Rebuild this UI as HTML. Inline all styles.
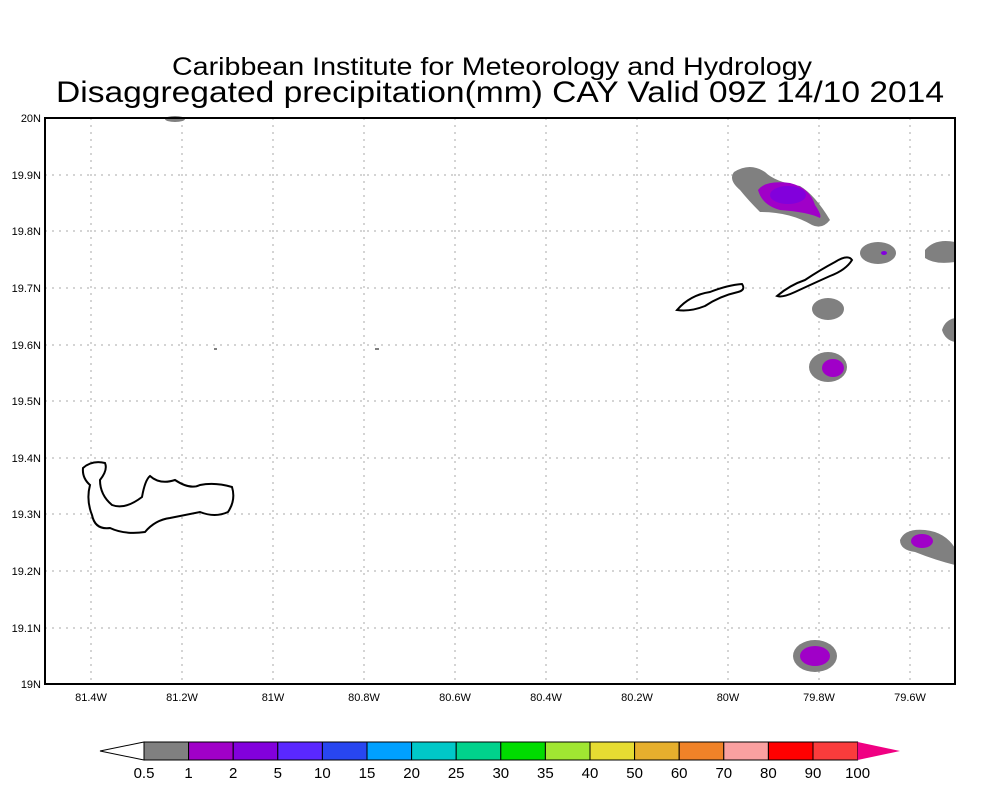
<!DOCTYPE html>
<html><head><meta charset="utf-8"><style>
body{margin:0;background:#fff;}
svg{display:block;font-family:"Liberation Sans",sans-serif;}
</style></head><body>
<svg width="1000" height="800" viewBox="0 0 1000 800">
<rect width="1000" height="800" fill="#fff"/>
<text x="492" y="75" font-size="25" text-anchor="middle" textLength="640" lengthAdjust="spacingAndGlyphs">Caribbean Institute for Meteorology and Hydrology</text>
<text x="500" y="102" font-size="30" text-anchor="middle" textLength="888" lengthAdjust="spacingAndGlyphs">Disaggregated precipitation(mm) CAY Valid 09Z 14/10 2014</text>
<g stroke="#aaa" stroke-width="1" stroke-dasharray="2,5">
<line x1="91" y1="118" x2="91" y2="684"/><line x1="182" y1="118" x2="182" y2="684"/><line x1="273" y1="118" x2="273" y2="684"/><line x1="364" y1="118" x2="364" y2="684"/><line x1="455" y1="118" x2="455" y2="684"/><line x1="546" y1="118" x2="546" y2="684"/><line x1="637" y1="118" x2="637" y2="684"/><line x1="728" y1="118" x2="728" y2="684"/><line x1="819" y1="118" x2="819" y2="684"/><line x1="910" y1="118" x2="910" y2="684"/>
<line x1="45" y1="175" x2="955" y2="175"/><line x1="45" y1="231" x2="955" y2="231"/><line x1="45" y1="288" x2="955" y2="288"/><line x1="45" y1="345" x2="955" y2="345"/><line x1="45" y1="401" x2="955" y2="401"/><line x1="45" y1="458" x2="955" y2="458"/><line x1="45" y1="514" x2="955" y2="514"/><line x1="45" y1="571" x2="955" y2="571"/><line x1="45" y1="628" x2="955" y2="628"/>
</g>
<g fill="#808080">
<path d="M734 172 Q750 162 765 172 Q775 182 800 186 Q815 195 830 220 Q822 230 812 225 Q790 212 760 212 Q748 200 740 190 Q728 180 734 172Z"/>
<ellipse cx="878" cy="253" rx="18" ry="11"/>
<path d="M925 250 Q935 238 955 242 L955 262 Q935 265 925 258Z"/>
<ellipse cx="828" cy="309" rx="16" ry="11"/>
<path d="M942 330 Q945 320 955 318 L955 342 Q945 340 942 330Z"/>
<ellipse cx="828" cy="367" rx="19" ry="15"/>
<path d="M900 540 Q905 528 925 530 Q945 532 955 548 L955 565 Q935 560 915 552 Q900 550 900 540Z"/>
<ellipse cx="815" cy="656" rx="22" ry="16"/>
<ellipse cx="175" cy="119" rx="10" ry="3"/>
</g>
<g fill="#a000c8">
<path d="M758 190 Q765 180 790 183 Q810 188 815 205 Q822 215 820 218 Q808 212 780 210 Q762 205 758 190Z"/>
<ellipse cx="833" cy="368" rx="11" ry="9"/>
<ellipse cx="922" cy="541" rx="11" ry="7"/>
<ellipse cx="815" cy="656" rx="15" ry="10"/>
</g>
<ellipse cx="788" cy="195" rx="18" ry="9" fill="#8200dc"/>
<ellipse cx="884" cy="253" rx="3" ry="2" fill="#8200dc"/>
<g fill="#fff" stroke="#000" stroke-width="2">
<path d="M677 310 Q690 295 710 292 Q728 285 742 284 Q746 290 738 292 Q720 296 705 306 Q690 312 677 310Z"/>
<path d="M777 296 Q790 285 805 280 Q820 270 835 262 Q848 254 852 260 Q846 270 830 276 Q810 285 795 292 Q782 298 777 296Z"/>
<path d="M83 468 Q92 460 105 463 Q108 470 100 480 Q100 495 112 505 Q125 510 142 497 Q145 480 150 476 Q160 485 175 480 Q190 490 200 485 Q215 482 232 487 Q236 500 228 512 Q215 518 200 512 Q185 515 170 518 Q155 520 145 532 Q125 535 110 528 Q95 530 92 515 Q86 500 90 485 Q82 478 83 468Z"/>
</g>
<g fill="#808080"><rect x="214" y="348" width="3" height="2"/><rect x="375" y="348" width="4" height="2"/></g>
<rect x="45" y="118" width="910" height="566" fill="none" stroke="#000" stroke-width="2"/>
<g font-size="11" text-anchor="end">
<text x="41" y="122">20N</text><text x="41" y="179">19.9N</text><text x="41" y="235">19.8N</text><text x="41" y="292">19.7N</text><text x="41" y="349">19.6N</text><text x="41" y="405">19.5N</text><text x="41" y="462">19.4N</text><text x="41" y="518">19.3N</text><text x="41" y="575">19.2N</text><text x="41" y="632">19.1N</text><text x="41" y="688">19N</text>
</g>
<g font-size="11" text-anchor="middle">
<text x="91" y="701">81.4W</text><text x="182" y="701">81.2W</text><text x="273" y="701">81W</text><text x="364" y="701">80.8W</text><text x="455" y="701">80.6W</text><text x="546" y="701">80.4W</text><text x="637" y="701">80.2W</text><text x="728" y="701">80W</text><text x="819" y="701">79.8W</text><text x="910" y="701">79.6W</text>
</g>
<g stroke="#000" stroke-width="1">
<polygon points="100,751 144,742 144,760" fill="#fff"/>
<rect x="144" y="742" width="44.6" height="18" fill="#808080"/>
<rect x="188.6" y="742" width="44.6" height="18" fill="#a000c8"/>
<rect x="233.2" y="742" width="44.6" height="18" fill="#8200dc"/>
<rect x="277.8" y="742" width="44.6" height="18" fill="#5a28ff"/>
<rect x="322.4" y="742" width="44.6" height="18" fill="#2846f0"/>
<rect x="367" y="742" width="44.6" height="18" fill="#00a0ff"/>
<rect x="411.6" y="742" width="44.6" height="18" fill="#00c8c8"/>
<rect x="456.2" y="742" width="44.6" height="18" fill="#00d28c"/>
<rect x="500.8" y="742" width="44.6" height="18" fill="#00dc00"/>
<rect x="545.4" y="742" width="44.6" height="18" fill="#a0e632"/>
<rect x="590" y="742" width="44.6" height="18" fill="#e6dc32"/>
<rect x="634.6" y="742" width="44.6" height="18" fill="#e6af2d"/>
<rect x="679.2" y="742" width="44.6" height="18" fill="#f08228"/>
<rect x="723.8" y="742" width="44.6" height="18" fill="#faa0a0"/>
<rect x="768.4" y="742" width="44.6" height="18" fill="#ff0000"/>
<rect x="813" y="742" width="44.6" height="18" fill="#fa3c3c"/>
<polygon points="857.6,742 900,751 857.6,760" fill="#f00082" stroke="none"/>
</g>
<g font-size="15" text-anchor="middle">
<text x="144" y="778">0.5</text><text x="188.6" y="778">1</text><text x="233.2" y="778">2</text><text x="277.8" y="778">5</text><text x="322.4" y="778">10</text><text x="367" y="778">15</text><text x="411.6" y="778">20</text><text x="456.2" y="778">25</text><text x="500.8" y="778">30</text><text x="545.4" y="778">35</text><text x="590" y="778">40</text><text x="634.6" y="778">50</text><text x="679.2" y="778">60</text><text x="723.8" y="778">70</text><text x="768.4" y="778">80</text><text x="813" y="778">90</text><text x="857.6" y="778">100</text>
</g>
</svg>
</body></html>
